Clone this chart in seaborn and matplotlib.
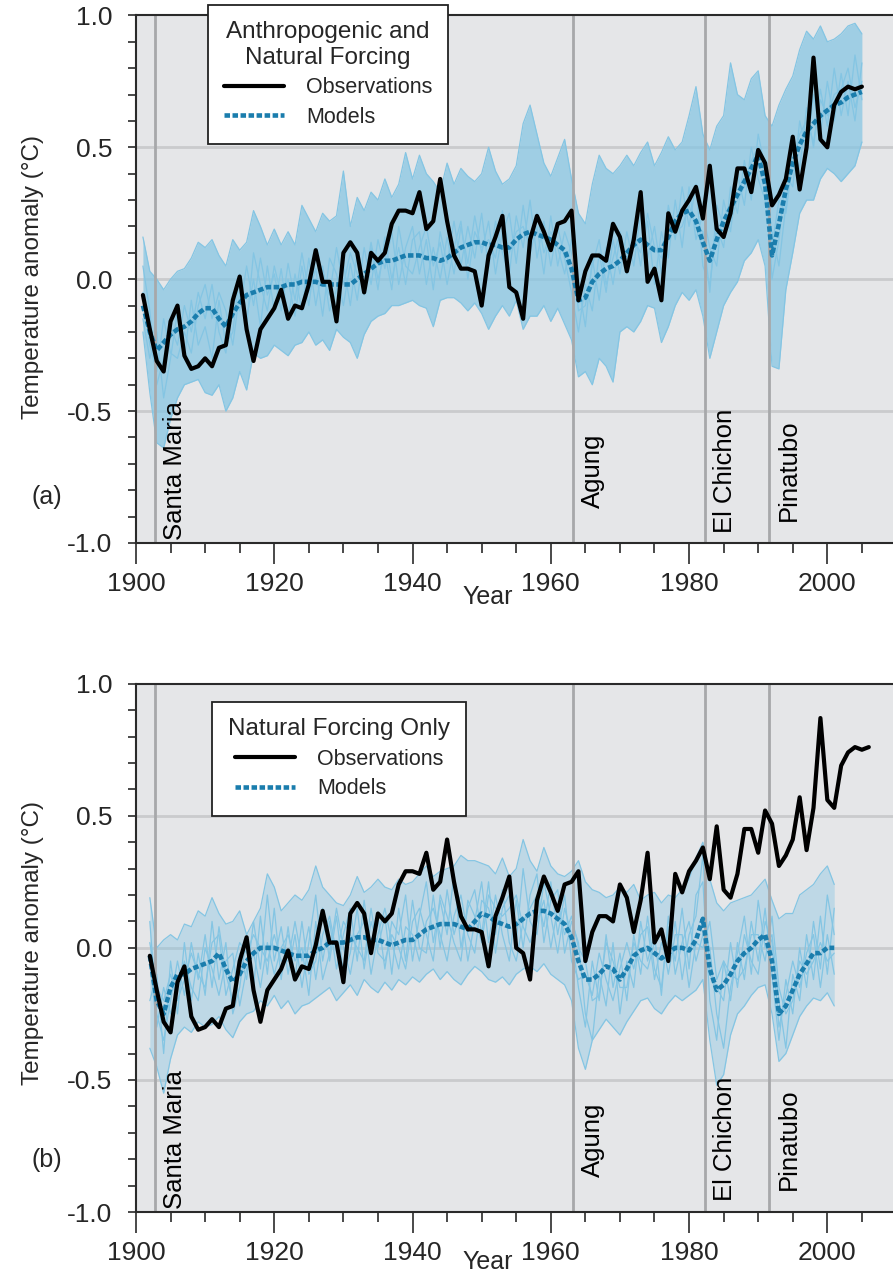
import numpy as np
import matplotlib
matplotlib.use('Agg')
import matplotlib.pyplot as plt
import seaborn as sns
from matplotlib.lines import Line2D
from matplotlib.ticker import MultipleLocator, FormatStrFormatter

# --- basic style ---
sns.set_theme(style='ticks')
plt.rcParams['font.family'] = ['Liberation Sans', 'DejaVu Sans']
plt.rcParams['axes.unicode_minus'] = False

# ==========================================
# data (anomalies, degC)
# ==========================================
years_a = np.arange(1901, 2006)

obs_a = [
    -0.06, -0.19, -0.31, -0.35, -0.16, -0.10, -0.29, -0.34, -0.33, -0.30,
    -0.33, -0.26, -0.25, -0.08, 0.01, -0.19, -0.31, -0.19, -0.15, -0.11,
    -0.04, -0.15, -0.10, -0.11, -0.02, 0.11, -0.01, -0.01, -0.16, 0.10,
    0.14, 0.10, -0.05, 0.10, 0.07, 0.10, 0.21, 0.26, 0.26, 0.25,
    0.33, 0.19, 0.22, 0.38, 0.22, 0.09, 0.04, 0.04, 0.03, -0.10,
    0.09, 0.16, 0.24, -0.03, -0.05, -0.15, 0.15, 0.24, 0.18, 0.11,
    0.21, 0.22, 0.26, -0.08, 0.03, 0.09, 0.09, 0.07, 0.21, 0.16,
    0.03, 0.15, 0.33, -0.01, 0.04, -0.08, 0.25, 0.18, 0.26, 0.30,
    0.35, 0.23, 0.43, 0.19, 0.16, 0.25, 0.42, 0.42, 0.33, 0.49,
    0.44, 0.28, 0.32, 0.38, 0.54, 0.34, 0.50, 0.84, 0.53, 0.50,
    0.66, 0.71, 0.73, 0.72, 0.73,
]

mean_a = [
    -0.10, -0.20, -0.27, -0.24, -0.21, -0.19, -0.18, -0.16, -0.13, -0.11,
    -0.11, -0.15, -0.18, -0.13, -0.09, -0.06, -0.05, -0.04, -0.03, -0.03,
    -0.03, -0.02, -0.02, -0.01, -0.01, -0.01, -0.02, -0.02, -0.02, -0.02,
    -0.02, 0.00, 0.02, 0.04, 0.06, 0.07, 0.07, 0.08, 0.09, 0.09,
    0.09, 0.08, 0.08, 0.07, 0.08, 0.10, 0.12, 0.13, 0.14, 0.14,
    0.13, 0.13, 0.12, 0.12, 0.15, 0.17, 0.18, 0.17, 0.16, 0.15,
    0.13, 0.11, 0.04, -0.08, -0.07, -0.01, 0.02, 0.04, 0.05, 0.07,
    0.10, 0.13, 0.15, 0.13, 0.11, 0.11, 0.16, 0.22, 0.25, 0.26,
    0.22, 0.14, 0.07, 0.15, 0.22, 0.27, 0.32, 0.37, 0.42, 0.47,
    0.36, 0.09, 0.21, 0.34, 0.44, 0.51, 0.56, 0.59, 0.62, 0.64,
    0.66, 0.67, 0.69, 0.70, 0.71,
]

# spread of the model runs (top / bottom edge of the bundle)
upper_a = [
    0.16, 0.03, 0.00, -0.04, 0.00, 0.03, 0.04, 0.08, 0.14, 0.12,
    0.15, 0.09, 0.05, 0.15, 0.11, 0.14, 0.26, 0.20, 0.13, 0.19,
    0.13, 0.18, 0.13, 0.28, 0.23, 0.18, 0.25, 0.22, 0.24, 0.41,
    0.20, 0.31, 0.26, 0.33, 0.30, 0.38, 0.31, 0.36, 0.48, 0.38,
    0.47, 0.40, 0.37, 0.33, 0.44, 0.36, 0.42, 0.39, 0.37, 0.40,
    0.50, 0.41, 0.36, 0.38, 0.43, 0.59, 0.66, 0.55, 0.44, 0.39,
    0.46, 0.53, 0.38, 0.25, 0.21, 0.36, 0.47, 0.42, 0.40, 0.43,
    0.47, 0.43, 0.48, 0.52, 0.43, 0.48, 0.54, 0.49, 0.52, 0.62,
    0.73, 0.55, 0.49, 0.58, 0.62, 0.82, 0.70, 0.68, 0.76, 0.79,
    0.62, 0.58, 0.66, 0.72, 0.77, 0.87, 0.94, 0.91, 0.96, 0.90,
    0.91, 0.93, 0.96, 0.97, 0.93,
]
lower_a = [
    -0.20, -0.43, -0.62, -0.64, -0.53, -0.45, -0.40, -0.39, -0.38, -0.43,
    -0.44, -0.40, -0.50, -0.45, -0.35, -0.42, -0.28, -0.30, -0.29, -0.25,
    -0.27, -0.29, -0.25, -0.24, -0.20, -0.25, -0.23, -0.27, -0.19, -0.22,
    -0.24, -0.30, -0.21, -0.16, -0.14, -0.13, -0.10, -0.10, -0.09, -0.08,
    -0.10, -0.11, -0.18, -0.08, -0.07, -0.07, -0.09, -0.12, -0.09, -0.13,
    -0.19, -0.14, -0.10, -0.14, -0.08, -0.19, -0.14, -0.14, -0.10, -0.16,
    -0.11, -0.17, -0.23, -0.37, -0.35, -0.40, -0.30, -0.33, -0.39, -0.20,
    -0.18, -0.20, -0.16, -0.10, -0.11, -0.24, -0.18, -0.10, -0.05, -0.08,
    -0.04, -0.14, -0.30, -0.20, -0.10, -0.05, -0.01, 0.07, 0.10, 0.15,
    0.05, -0.33, -0.34, -0.04, 0.10, 0.25, 0.30, 0.30, 0.38, 0.42,
    0.40, 0.37, 0.40, 0.43, 0.52,
]

# a few single runs traced inside the bundle
run_a1 = [
    0.05, -0.12, -0.40, -0.30, -0.18, -0.25, -0.10, -0.20, -0.05, -0.15,
    -0.02, -0.20, -0.28, -0.05, -0.12, 0.05, -0.10, 0.08, -0.06, 0.02,
    -0.12, 0.06, -0.08, 0.10, -0.05, 0.04, -0.14, 0.08, 0.02, -0.10,
    0.06, -0.08, 0.12, -0.02, 0.15, 0.04, 0.18, -0.02, 0.12, 0.20,
    0.02, 0.15, -0.04, 0.18, 0.06, 0.22, 0.05, 0.20, 0.08, 0.25,
    0.04, 0.22, 0.10, 0.02, 0.24, 0.12, 0.30, 0.08, 0.22, 0.05,
    0.20, 0.08, -0.05, -0.20, -0.02, -0.12, 0.10, -0.05, 0.15, 0.02,
    0.18, 0.05, 0.25, 0.08, 0.20, 0.02, 0.28, 0.15, 0.35, 0.20,
    0.36, 0.05, -0.02, 0.20, 0.12, 0.35, 0.25, 0.45, 0.30, 0.55,
    0.42, 0.00, 0.15, 0.40, 0.35, 0.60, 0.48, 0.70, 0.55, 0.75,
    0.60, 0.78, 0.62, 0.85, 0.68,
]
run_a2 = [
    -0.15, -0.30, -0.20, -0.45, -0.30, -0.12, -0.30, -0.08, -0.25, -0.18,
    -0.30, -0.08, -0.25, -0.20, 0.02, -0.15, 0.00, -0.18, 0.05, -0.12,
    0.04, -0.15, 0.02, -0.12, 0.08, -0.10, 0.05, -0.12, -0.04, 0.06,
    -0.10, 0.10, -0.06, 0.12, -0.04, 0.16, 0.00, 0.12, -0.02, 0.15,
    0.18, -0.02, 0.12, 0.00, 0.16, 0.02, 0.20, 0.06, 0.24, 0.10,
    0.22, 0.02, 0.18, 0.25, 0.06, 0.28, 0.10, 0.20, 0.02, 0.24,
    0.05, 0.18, 0.10, -0.02, -0.18, 0.08, -0.08, 0.12, -0.02, 0.16,
    0.02, 0.20, 0.05, 0.22, -0.02, 0.18, 0.08, 0.30, 0.12, 0.35,
    0.15, 0.25, 0.12, 0.05, 0.30, 0.18, 0.40, 0.28, 0.50, 0.38,
    0.30, 0.18, 0.05, 0.28, 0.50, 0.42, 0.65, 0.50, 0.72, 0.58,
    0.80, 0.62, 0.75, 0.60, 0.82,
]
run_a3 = [
    -0.05, -0.25, -0.35, -0.15, -0.28, -0.30, -0.20, -0.28, -0.10, -0.02,
    -0.15, -0.05, -0.12, -0.25, -0.05, -0.18, 0.10, -0.02, -0.12, 0.05,
    -0.06, 0.00, -0.14, 0.05, -0.10, 0.10, 0.00, -0.06, 0.12, -0.02,
    0.10, 0.02, -0.02, 0.14, 0.00, 0.10, -0.04, 0.20, 0.05, 0.02,
    0.12, 0.20, 0.05, 0.14, -0.02, 0.12, 0.22, 0.00, 0.18, 0.12,
    0.15, 0.08, 0.26, 0.10, 0.18, 0.20, 0.12, 0.25, 0.10, 0.18,
    0.12, 0.02, 0.15, -0.12, -0.10, 0.05, 0.15, -0.02, 0.08, 0.18,
    0.08, 0.15, 0.10, 0.25, 0.12, 0.08, 0.22, 0.18, 0.20, 0.28,
    0.20, 0.18, -0.05, 0.28, 0.20, 0.22, 0.30, 0.35, 0.45, 0.50,
    0.38, 0.12, 0.30, 0.25, 0.45, 0.55, 0.60, 0.52, 0.68, 0.62,
    0.70, 0.72, 0.80, 0.65, 0.75,
]

# panel (b): observations are drawn one year later in the original figure
years_b_obs = np.arange(1902, 2007)
obs_b = [
    -0.03, -0.16, -0.28, -0.32, -0.13, -0.07, -0.26, -0.31, -0.30, -0.27,
    -0.30, -0.23, -0.22, -0.05, 0.04, -0.16, -0.28, -0.16, -0.12, -0.08,
    -0.01, -0.12, -0.07, -0.08, 0.01, 0.14, 0.02, 0.02, -0.13, 0.13,
    0.17, 0.13, -0.02, 0.13, 0.10, 0.13, 0.24, 0.29, 0.29, 0.28,
    0.36, 0.22, 0.25, 0.41, 0.25, 0.12, 0.07, 0.07, 0.06, -0.07,
    0.12, 0.19, 0.27, 0.00, -0.02, -0.12, 0.18, 0.27, 0.21, 0.14,
    0.24, 0.25, 0.29, -0.05, 0.06, 0.12, 0.12, 0.10, 0.24, 0.19,
    0.06, 0.18, 0.36, 0.02, 0.07, -0.05, 0.28, 0.21, 0.29, 0.33,
    0.38, 0.26, 0.46, 0.22, 0.19, 0.28, 0.45, 0.45, 0.36, 0.52,
    0.47, 0.31, 0.35, 0.41, 0.57, 0.37, 0.53, 0.87, 0.56, 0.53,
    0.69, 0.74, 0.76, 0.75, 0.76,
]

years_b = np.arange(1902, 2002)
mean_b = [
    -0.03, -0.20, -0.25, -0.15, -0.10, -0.10, -0.08, -0.07, -0.06, -0.05,
    -0.02, -0.08, -0.13, -0.10, -0.05, -0.02, 0.00, 0.00, 0.00, -0.01,
    -0.02, -0.03, -0.03, -0.03, -0.01, 0.00, 0.02, 0.02, 0.02, 0.03,
    0.04, 0.04, 0.03, 0.03, 0.02, 0.01, 0.02, 0.03, 0.03, 0.05,
    0.07, 0.08, 0.09, 0.09, 0.09, 0.08, 0.07, 0.10, 0.13, 0.12,
    0.10, 0.09, 0.08, 0.09, 0.11, 0.13, 0.14, 0.14, 0.13, 0.11,
    0.09, 0.04, -0.05, -0.12, -0.12, -0.10, -0.07, -0.08, -0.12, -0.08,
    -0.03, -0.01, 0.00, -0.02, -0.04, -0.02, 0.00, 0.00, -0.01, 0.03,
    0.11, -0.08, -0.16, -0.14, -0.10, -0.05, -0.02, 0.00, 0.03, 0.05,
    -0.05, -0.25, -0.22, -0.16, -0.10, -0.06, -0.02, -0.02, 0.00, 0.00,
]
upper_b = [
    0.19, 0.00, 0.03, 0.05, 0.03, 0.09, 0.08, 0.14, 0.12, 0.19,
    0.13, 0.09, 0.10, 0.14, 0.05, 0.10, 0.15, 0.28, 0.23, 0.14,
    0.17, 0.20, 0.18, 0.22, 0.31, 0.23, 0.20, 0.17, 0.16, 0.20,
    0.27, 0.21, 0.23, 0.26, 0.23, 0.22, 0.26, 0.24, 0.25, 0.28,
    0.31, 0.27, 0.29, 0.30, 0.31, 0.35, 0.33, 0.33, 0.32, 0.31,
    0.28, 0.34, 0.27, 0.30, 0.41, 0.33, 0.29, 0.38, 0.31, 0.28,
    0.27, 0.29, 0.33, 0.25, 0.22, 0.21, 0.19, 0.20, 0.23, 0.21,
    0.24, 0.18, 0.20, 0.21, 0.17, 0.20, 0.19, 0.22, 0.26, 0.34,
    0.40, 0.26, 0.17, 0.14, 0.17, 0.18, 0.19, 0.20, 0.23, 0.26,
    0.18, 0.11, 0.13, 0.13, 0.20, 0.22, 0.24, 0.28, 0.31, 0.24,
]
lower_b = [
    -0.38, -0.45, -0.55, -0.42, -0.33, -0.30, -0.32, -0.28, -0.30, -0.29,
    -0.26, -0.31, -0.34, -0.28, -0.25, -0.24, -0.20, -0.22, -0.18, -0.23,
    -0.20, -0.25, -0.22, -0.21, -0.19, -0.17, -0.15, -0.20, -0.17, -0.14,
    -0.18, -0.12, -0.15, -0.17, -0.13, -0.16, -0.12, -0.14, -0.11, -0.13,
    -0.10, -0.08, -0.12, -0.09, -0.12, -0.14, -0.10, -0.07, -0.09, -0.12,
    -0.13, -0.11, -0.14, -0.10, -0.08, -0.07, -0.09, -0.06, -0.10, -0.12,
    -0.14, -0.20, -0.38, -0.46, -0.35, -0.31, -0.27, -0.30, -0.33, -0.28,
    -0.24, -0.20, -0.19, -0.23, -0.25, -0.21, -0.18, -0.20, -0.18, -0.16,
    -0.12, -0.35, -0.52, -0.48, -0.33, -0.25, -0.22, -0.18, -0.15, -0.14,
    -0.25, -0.43, -0.40, -0.33, -0.26, -0.22, -0.19, -0.20, -0.17, -0.22,
]
run_b1 = [
    0.10, -0.25, -0.35, -0.20, -0.05, -0.18, 0.02, -0.12, 0.05, -0.15,
    0.08, -0.10, -0.20, -0.02, -0.12, 0.10, -0.08, 0.20, -0.05, 0.08,
    -0.10, 0.05, -0.15, 0.02, 0.20, -0.05, 0.10, -0.08, 0.05, 0.15,
    -0.05, 0.18, -0.02, 0.12, -0.08, 0.10, 0.05, 0.20, -0.05, 0.12,
    0.25, 0.02, 0.18, 0.05, 0.28, 0.00, 0.15, 0.22, 0.05, 0.25,
    -0.02, 0.15, 0.20, 0.02, 0.30, 0.10, 0.05, 0.25, 0.12, -0.02,
    0.15, 0.05, -0.15, -0.30, -0.05, -0.20, 0.05, -0.15, -0.02, -0.20,
    0.05, -0.10, 0.12, -0.08, -0.15, 0.08, -0.05, 0.15, -0.08, 0.20,
    0.25, -0.20, -0.35, -0.05, -0.20, 0.02, -0.12, 0.10, -0.05, 0.15,
    -0.10, -0.35, -0.12, -0.25, 0.00, -0.15, 0.10, -0.08, 0.20, 0.05,
]
run_b2 = [
    -0.20, -0.10, -0.40, -0.05, -0.25, 0.02, -0.20, -0.02, -0.18, 0.10,
    -0.12, 0.02, -0.25, -0.15, 0.05, -0.15, 0.12, -0.10, 0.15, -0.12,
    0.08, -0.12, 0.10, -0.10, -0.05, 0.15, -0.05, 0.12, -0.10, -0.02,
    0.15, -0.08, 0.10, 0.00, 0.12, -0.10, 0.15, -0.05, 0.18, 0.00,
    -0.02, 0.20, 0.00, 0.22, 0.05, 0.15, -0.05, 0.10, 0.25, 0.02,
    0.20, 0.05, -0.05, 0.18, 0.00, 0.20, 0.28, 0.02, 0.18, 0.22,
    -0.02, 0.10, 0.02, -0.25, -0.35, -0.10, -0.22, 0.02, -0.25, -0.05,
    -0.15, 0.10, -0.05, 0.05, -0.18, 0.12, -0.10, 0.02, 0.10, -0.05,
    0.05, 0.00, -0.25, -0.38, -0.15, -0.02, 0.12, -0.10, 0.18, 0.00,
    0.05, -0.20, -0.38, -0.10, -0.20, 0.05, -0.12, 0.12, -0.10, 0.15,
]
run_b3 = [
    -0.05, -0.30, -0.15, -0.25, -0.15, -0.05, -0.15, -0.20, 0.00, -0.08,
    -0.18, -0.05, -0.02, -0.22, -0.08, -0.02, -0.15, 0.02, -0.10, 0.00,
    0.05, -0.05, 0.00, -0.18, 0.10, -0.12, -0.02, 0.15, 0.00, -0.10,
    0.05, 0.10, -0.10, 0.05, 0.15, 0.02, -0.08, 0.08, 0.05, -0.05,
    0.10, 0.15, 0.05, -0.05, 0.12, 0.20, 0.05, -0.02, 0.18, 0.15,
    0.05, 0.22, 0.02, -0.05, 0.10, 0.15, 0.20, 0.08, 0.25, 0.05,
    0.20, -0.05, -0.12, -0.10, -0.18, -0.02, -0.12, -0.20, -0.08, 0.02,
    -0.08, 0.05, 0.08, -0.12, 0.02, -0.05, 0.10, -0.12, 0.05, 0.12,
    0.35, -0.10, -0.15, -0.20, 0.02, -0.15, 0.05, -0.05, -0.10, 0.10,
    0.02, -0.30, -0.18, -0.05, -0.15, -0.02, 0.05, -0.15, 0.05, -0.10,
]
run_b4 = [
    0.02, -0.15, -0.20, -0.10, -0.20, -0.12, -0.02, -0.10, -0.15, 0.02,
    0.05, -0.18, -0.08, 0.02, -0.02, 0.05, 0.00, -0.05, 0.05, -0.05,
    -0.05, 0.10, -0.05, 0.08, -0.12, 0.05, 0.12, -0.02, 0.10, 0.05,
    0.00, -0.05, 0.15, -0.02, -0.05, 0.05, 0.00, -0.08, 0.10, 0.15,
    0.05, -0.05, 0.20, 0.12, 0.02, -0.05, 0.18, 0.12, 0.02, 0.20,
    0.15, 0.12, 0.15, 0.20, 0.08, 0.02, 0.10, 0.18, 0.00, 0.15,
    0.05, 0.12, 0.00, -0.05, -0.20, -0.18, 0.02, -0.05, -0.15, -0.15,
    0.02, -0.05, -0.08, 0.02, 0.05, -0.10, 0.05, 0.05, -0.15, 0.02,
    0.00, 0.10, -0.12, -0.05, -0.10, -0.12, -0.08, 0.05, 0.05, -0.05,
    0.12, -0.15, -0.25, -0.20, -0.05, -0.10, -0.05, 0.02, -0.05, -0.02,
]

volcano_names = ['Santa Maria', 'Agung', 'El Chichon', 'Pinatubo']
volcano_years = [1902.8, 1963.2, 1982.3, 1991.5]

# ==========================================
# colours
# ==========================================
BG = '#e5e6e8'
GRID = '#cacbcd'
VLINE = '#a7a8aa'
RUN = '#84c5e3'
MEAN = '#1a7dad'
SPINE = '#2a2a2a'

W, H = 893, 1272
fig = plt.figure(figsize=(W / 100, H / 100), dpi=100)


def draw_panel(ax, yrs_obs, obs, yrs_mod, mean, upper, lower, runs, band_alpha):
    ax.set_facecolor(BG)
    for v in (-0.5, 0.0, 0.5):
        ax.axhline(v, color=GRID, lw=2, zorder=0.5)

    # model ensemble
    ax.fill_between(yrs_mod, lower, upper, color=RUN, alpha=band_alpha, lw=0, zorder=1)
    for r in runs + [upper, lower]:
        sns.lineplot(x=yrs_mod, y=r, ax=ax, color=RUN, lw=0.9, zorder=1.5)

    # volcanoes
    for name, yr in zip(volcano_names, volcano_years):
        ax.axvline(yr, color=VLINE, lw=2, zorder=2)
        ax.text(yr + 2.9, -0.725, name, rotation=90, ha='center', va='center',
                fontsize=18.5, color='black', zorder=5)

    sns.lineplot(x=yrs_mod, y=mean, ax=ax, color=MEAN, lw=3.3,
                 ls=(0, (1.2, 0.55)), zorder=3)
    sns.lineplot(x=yrs_obs, y=obs, ax=ax, color='black', lw=3.0, zorder=4)

    ax.set_xlim(1900.0, 2009.5)
    ax.set_ylim(-1.0, 1.0)
    ax.set_xlabel('')
    ax.set_ylabel('')

    ax.xaxis.set_major_locator(MultipleLocator(20))
    ax.xaxis.set_minor_locator(MultipleLocator(5))
    ax.yaxis.set_major_locator(MultipleLocator(0.5))
    ax.yaxis.set_minor_locator(MultipleLocator(0.1))
    ax.yaxis.set_major_formatter(FormatStrFormatter('%.1f'))

    ax.tick_params(axis='x', which='major', direction='out', length=15, width=1.2,
                   color=SPINE, labelsize=19, pad=6)
    ax.tick_params(axis='x', which='minor', direction='out', length=7, width=1.2, color=SPINE)
    ax.tick_params(axis='y', which='both', direction='out', length=6, width=1.2,
                   color=SPINE, labelsize=19, pad=11)

    for side in ('left', 'bottom', 'top'):
        ax.spines[side].set_color(SPINE)
        ax.spines[side].set_linewidth(1.5)
        ax.spines[side].set_zorder(6)
    ax.spines['right'].set_visible(False)


def add_legend(ax, title, x_px, y_px):
    handles = [Line2D([], [], color='black', lw=3.0),
               Line2D([], [], color=MEAN, lw=3.3, ls=(0, (1.2, 0.55)))]
    leg = ax.legend(handles, ['Observations', 'Models'], title=title,
                    loc='upper left', bbox_to_anchor=(x_px / W, 1 - y_px / H),
                    bbox_transform=fig.transFigure, borderaxespad=0,
                    frameon=True, fancybox=False,
                    framealpha=1, facecolor='white', edgecolor='#222222',
                    fontsize=15.5, title_fontsize=17.5, handlelength=2.8,
                    handletextpad=1.0, labelspacing=0.4, borderpad=0.75)
    leg.get_frame().set_linewidth(1.3)
    leg.get_title().set_multialignment('center')
    leg.set_zorder(10)
    return leg


# panel (a)
ax_a = fig.add_axes([136 / W, 1 - 543 / H, (W - 136) / W, (543 - 15.4) / H])
draw_panel(ax_a, years_a, obs_a, years_a, mean_a, upper_a, lower_a,
           [run_a1, run_a2, run_a3], band_alpha=0.72)
add_legend(ax_a, 'Anthropogenic and\nNatural Forcing', 208, 5)

# panel (b)
ax_b = fig.add_axes([136 / W, 1 - 1212 / H, (W - 136) / W, (1212 - 683.7) / H])
draw_panel(ax_b, years_b_obs, obs_b, years_b, mean_b, upper_b, lower_b,
           [run_b1, run_b2, run_b3, run_b4], band_alpha=0.4)
add_legend(ax_b, 'Natural Forcing Only', 212, 702)

# labels
for yc, lab, yl, yy in [(277, '(a)', 497, 597), (943, '(b)', 1160, 1262)]:
    fig.text(33 / W, 1 - yc / H, 'Temperature anomaly (°C)', rotation=90,
             ha='center', va='center', fontsize=17.5)
    fig.text(47 / W, 1 - yl / H, lab, ha='center', va='center', fontsize=18)
    fig.text(488 / W, 1 - yy / H, 'Year', ha='center', va='center', fontsize=18)

fig.savefig('out.png', dpi=100)
